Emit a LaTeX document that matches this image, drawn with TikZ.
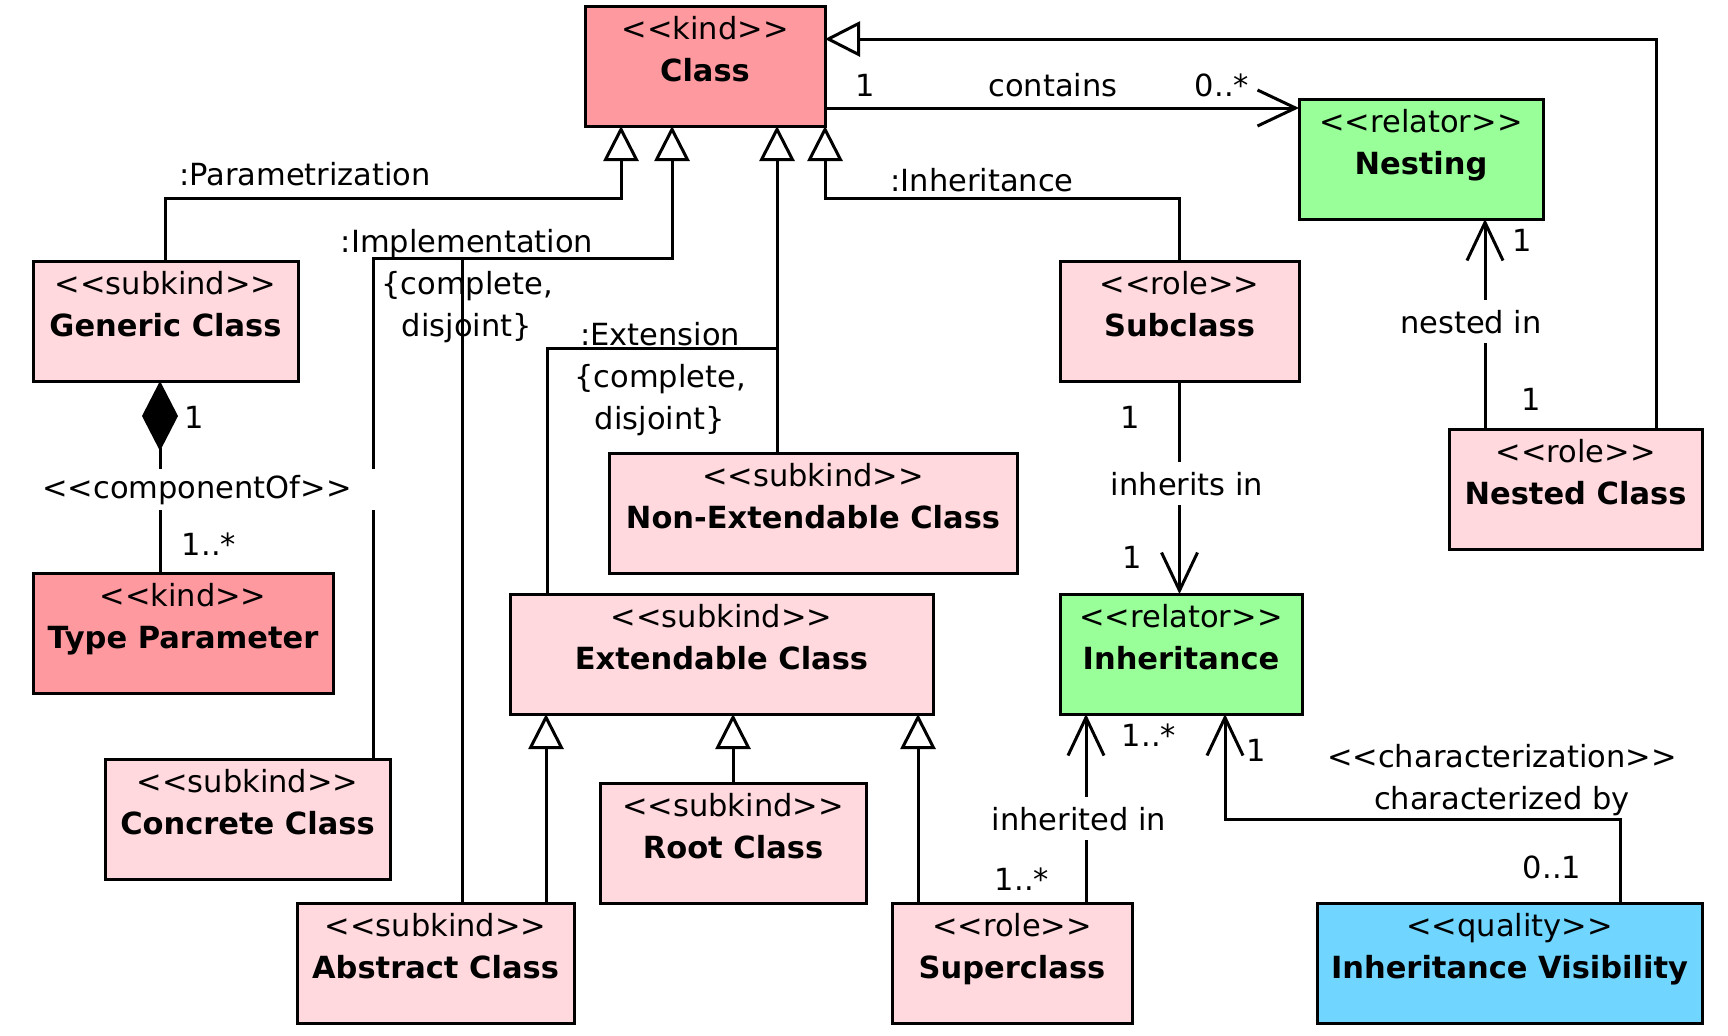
\documentclass[tikz,border=0pt]{standalone}
\usepackage{fontspec}
\setmainfont{DejaVu Sans}
\usepackage{tikz}
\usetikzlibrary{arrows.meta, calc}
\definecolor{kindred}{RGB}{255,153,160}
\definecolor{subpink}{RGB}{255,217,221}
\definecolor{relgreen}{RGB}{153,255,153}
\definecolor{qualblue}{RGB}{112,214,255}
\newcommand{\umlfont}{\fontsize{15.25pt}{21pt}\selectfont}
\newcommand{\stereo}[1]{\mbox{<}\mbox{<}#1\mbox{>}\mbox{>}}
\newcommand{\umltext}[3]{\parbox[c][60pt][t]{#1}{\centering\rule{0pt}{16.5pt}\stereo{#2}\\\textbf{#3}}}

\begin{document}
\begin{tikzpicture}
  [
    x=0.5pt, y=-0.5pt, font=\umlfont,
    Box/.style={draw=black, line width=1.5pt, inner sep=0pt, outer sep=0pt},
    Kind/.style={Box, fill=kindred},
    Pink/.style={Box, fill=subpink},
    Green/.style={Box, fill=relgreen},
    Blue/.style={Box, fill=qualblue},
    Line/.style={draw, line width=1.5pt},
    Gen/.style={Line, -{Triangle[open, length=17.5pt, width=17.5pt]}},
    Assoc/.style={Line, -{Straight Barb[length=19pt, width=18pt]}},
    Comp/.style={Line, {Diamond[length=35pt, width=18pt]}-},
    Lbl/.style={anchor=base, inner sep=0pt},
    Cut/.style={Lbl, fill=white, inner xsep=2pt, inner ysep=4.75pt}
  ]
  \useasboundingbox (0,0) rectangle (1728,1035);
  % Nodes
  \node[Kind] (cls) at (705,66) {\umltext{120pt}{kind}{Class}};
  \node[Green] (nest) at (1421,159) {\umltext{122pt}{relator}{Nesting}};
  \node[Pink] (gen) at (165.5,321) {\umltext{132.5pt}{subkind}{Generic Class}};
  \node[Pink] (sub) at (1179.5,321) {\umltext{119.5pt}{role}{Subclass}};
  \node[Pink] (nstd) at (1575.5,489) {\umltext{126.5pt}{role}{Nested Class}};
  \node[Pink] (nonext) at (813,513) {\umltext{204pt}{subkind}{Non-Extendable Class}};
  \node[Kind] (tparam) at (183,633) {\umltext{150pt}{kind}{Type Parameter}};
  \node[Pink] (ext) at (721.5,654) {\umltext{211.5pt}{subkind}{Extendable Class}};
  \node[Green] (inh) at (1181,654) {\umltext{121pt}{relator}{Inheritance}};
  \node[Pink] (conc) at (247.5,819) {\umltext{142.5pt}{subkind}{Concrete Class}};
  \node[Pink] (root) at (733,843) {\umltext{133pt}{subkind}{Root Class}};
  \node[Pink] (abst) at (435.5,963) {\umltext{138.5pt}{subkind}{Abstract Class}};
  \node[Pink] (sup) at (1012,963) {\umltext{120pt}{role}{Superclass}};
  \node[Blue] (vis) at (1509.5,963) {\umltext{192.5pt}{quality}{Inheritance Visibility}};
  % Lines
  \draw[Gen] ($(nstd.north east)+(-46,0)$) |- ($(cls.north east)+(0,33)$);
  \draw[Assoc] ($(cls.south east)+(0,-18)$) -- ($(nest.north west)+(0,9)$);
  \draw[Gen] (gen.north) |- ($(cls.south west)+(36,72)$) -- ($(cls.south west)+(36,0)$);
  \coordinate (impl) at ($(cls.south west)+(87,132)$);
  \draw[Gen] ($(conc.north east)+(-17,0)$) |- (impl) -- ($(cls.south west)+(87,0)$);
  \draw[Line] ($(abst.north west)+(165,0)$) |- (impl);
  \coordinate (extn) at ($(cls.south west)+(192,222)$);
  \draw[Gen] ($(nonext.north west)+(168,0)$) -- ($(cls.south west)+(192,0)$);
  \draw[Line] ($(ext.north west)+(37,0)$) |- (extn);
  \draw[Gen] (sub.north) |- ($(cls.south east)+(0,72)$) -- (cls.south east);
  \coordinate (cmp) at ($(gen.south)+(-5.5,0)$);
  \draw[Comp] (cmp) -- (cmp |- tparam.north);
  \draw[Assoc] (sub.south) -- (sub.south |- inh.north);
  \coordinate (nst) at ($(nstd.north west)+(36,0)$);
  \draw[Assoc] (nst) -- (nst |- nest.south);
  \draw[Gen] ($(abst.north west)+(249,0)$) -- ($(ext.south west)+(36,0)$);
  \draw[Gen] (root.north) -- (root.north |- ext.south);
  \draw[Gen] ($(sup.north west)+(26,0)$) -- ($(ext.south east)+(-15,0)$);
  \draw[Assoc] ($(sup.north west)+(194,0)$) -- ($(inh.south west)+(26,0)$);
  \draw[Assoc] ($(vis.north west)+(303,0)$) |- ($(inh.south west)+(165,105)$) -- ($(inh.south west)+(165,0)$);
  % Labels
  \node[Lbl] (contains-a) at (865,96.7) {1};
  \node[Lbl] (contains) at (1053,96.7) {contains};
  \node[Lbl] (contains-b) at (1222,96.7) {0..*};
  \node[Lbl] (param) at (305,185) {:Parametrization};
  \node[Lbl, anchor=north, align=center] (implset) at (467,228.5) {:Implementation\\\{complete,\\disjoint\}};
  \node[Lbl, anchor=north, align=center] (extset) at (660,321.8) {:Extension\\\{complete,\\disjoint\}};
  \node[Lbl] (inhgen) at (982,191.7) {:Inheritance};
  \node[Lbl] (comp-a) at (194,428) {1};
  \node[Cut, inner xsep=12pt, inner ysep=3pt] (compof) at (197,498) {\stereo{componentOf}};
  \node[Lbl] (comp-b) at (209,555) {1..*};
  \node[Lbl] (sub-a) at (1130,428) {1};
  \node[Cut] (inherits) at (1187,495) {inherits in};
  \node[Lbl] (sub-b) at (1132,568) {1};
  \node[Lbl] (nest-a) at (1522,251.7) {1};
  \node[Cut] (nested) at (1471,333) {nested in};
  \node[Lbl] (nest-b) at (1531,410) {1};
  \node[Lbl] (sup-a) at (1149,746.7) {1..*};
  \node[Cut] (inherited) at (1079,830) {inherited in};
  \node[Lbl] (sup-b) at (1022,890) {1..*};
  \node[Lbl] (vis-a) at (1256,761.7) {1};
  \node[Lbl, anchor=north, align=center] (charby) at (1502,743.5) {\stereo{characterization}\\characterized by};
  \node[Lbl] (vis-b) at (1552,878) {0..1};
\end{tikzpicture}
\end{document}
